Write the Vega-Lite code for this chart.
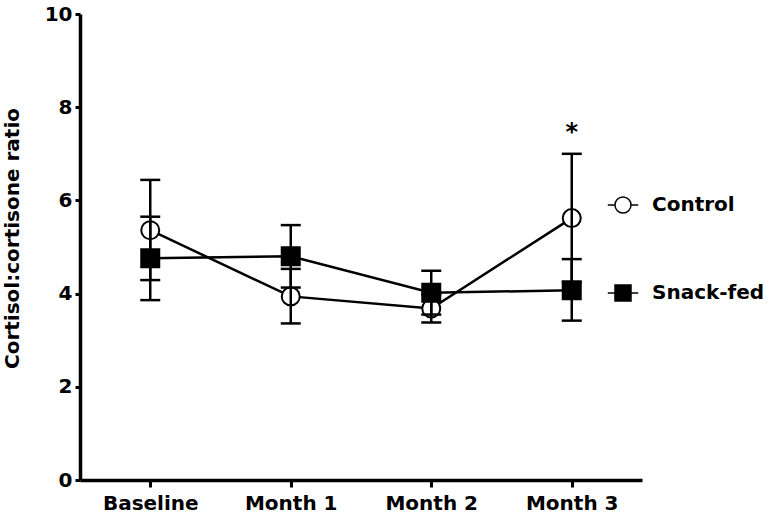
{
  "$schema": "https://vega.github.io/schema/vega-lite/v6.json",
  "width": 562,
  "height": 466,
  "autosize": {"type": "none"},
  "padding": {"left": 80, "top": 14, "right": 125, "bottom": 39},
  "background": "white",
  "config": {
    "view": {"stroke": null},
    "font": "DejaVu Sans",
    "axis": {
      "domainColor": "black",
      "tickColor": "black",
      "labelColor": "black",
      "titleColor": "black",
      "labelFont": "DejaVu Sans",
      "titleFont": "DejaVu Sans",
      "labelFontWeight": "bold",
      "titleFontWeight": "bold",
      "grid": false
    }
  },
  "datasets": {
    "stats": [
      {"group": "Control", "time": "Baseline", "mean": 5.36, "lo": 4.29, "hi": 6.44},
      {"group": "Control", "time": "Month 1", "mean": 3.94, "lo": 3.36, "hi": 4.53},
      {"group": "Control", "time": "Month 2", "mean": 3.68, "lo": 3.38, "hi": 3.98},
      {"group": "Control", "time": "Month 3", "mean": 5.62, "lo": 4.24, "hi": 7.0},
      {"group": "Snack-fed", "time": "Baseline", "mean": 4.76, "lo": 3.86, "hi": 5.65},
      {"group": "Snack-fed", "time": "Month 1", "mean": 4.8, "lo": 4.13, "hi": 5.47},
      {"group": "Snack-fed", "time": "Month 2", "mean": 4.02, "lo": 3.55, "hi": 4.49},
      {"group": "Snack-fed", "time": "Month 3", "mean": 4.07, "lo": 3.42, "hi": 4.74}
    ],
    "marks": [
      {"time": "Month 3", "y": 7.45, "label": "*"}
    ]
  },
  "encoding": {
    "x": {
      "field": "time",
      "type": "ordinal",
      "sort": ["Baseline", "Month 1", "Month 2", "Month 3"],
      "scale": {"type": "point", "padding": 0.5},
      "axis": {
        "title": null,
        "labelAngle": 0,
        "domainWidth": 3.5,
        "tickWidth": 3,
        "tickSize": 7,
        "labelFontSize": 20,
        "labelPadding": 6
      }
    }
  },
  "layer": [
    {
      "data": {"name": "stats"},
      "mark": {"type": "line", "stroke": "black", "strokeWidth": 2.5},
      "encoding": {
        "y": {
          "field": "mean",
          "type": "quantitative",
          "scale": {"domain": [0, 10], "nice": false, "zero": true},
          "axis": {
            "title": "Cortisol:cortisone ratio",
            "values": [0, 2, 4, 6, 8, 10],
            "domainWidth": 3.5,
            "tickWidth": 3,
            "tickSize": 5,
            "labelFontSize": 20,
            "labelPadding": 3,
            "titleFontSize": 20,
            "titlePadding": 22,
            "titleY": 224
          }
        },
        "detail": {"field": "group"}
      }
    },
    {
      "data": {"name": "stats"},
      "mark": {"type": "point", "filled": true, "stroke": "black", "strokeWidth": 2, "size": 324, "opacity": 1},
      "encoding": {
        "y": {"field": "mean", "type": "quantitative"},
        "shape": {
          "field": "group",
          "type": "nominal",
          "scale": {"domain": ["Control", "Snack-fed"], "range": ["circle", "square"]},
          "legend": null
        },
        "fill": {
          "field": "group",
          "type": "nominal",
          "scale": {"domain": ["Control", "Snack-fed"], "range": ["white", "black"]},
          "legend": null
        }
      }
    },
    {
      "data": {"name": "stats"},
      "mark": {"type": "rule", "stroke": "black", "strokeWidth": 2.5},
      "encoding": {
        "y": {"field": "lo", "type": "quantitative"},
        "y2": {"field": "hi"}
      }
    },
    {
      "data": {"name": "stats"},
      "mark": {"type": "tick", "color": "black", "size": 20, "thickness": 2.5, "opacity": 1},
      "encoding": {
        "y": {"field": "lo", "type": "quantitative"}
      }
    },
    {
      "data": {"name": "stats"},
      "mark": {"type": "tick", "color": "black", "size": 20, "thickness": 2.5, "opacity": 1},
      "encoding": {
        "y": {"field": "hi", "type": "quantitative"}
      }
    },
    {
      "data": {"name": "marks"},
      "mark": {"type": "text", "font": "DejaVu Sans", "fontWeight": "bold", "fontSize": 24, "color": "black", "baseline": "middle", "align": "center"},
      "encoding": {
        "y": {"field": "y", "type": "quantitative"},
        "text": {"field": "label"}
      }
    },
    {
      "data": {"name": "stats"},
      "transform": [{"filter": "datum.mean < 0"}],
      "mark": {"type": "point", "filled": true, "stroke": "black", "strokeWidth": 2, "size": 256, "opacity": 1},
      "encoding": {
        "y": {"field": "mean", "type": "quantitative"},
        "shape": {
          "field": "group",
          "type": "nominal",
          "scale": {
            "domain": ["Control", "Snack-fed"],
            "range": [
              "M-1.9,0L-1,0M1,0L1.9,0M1,0A1,1,0,1,1,-1,0A1,1,0,1,1,1,0Z",
              "M-1.9,0L-1,0M1,0L1.9,0M-1,-1L1,-1L1,1L-1,1Z"
            ]
          },
          "legend": {
            "title": null,
            "orient": "none",
            "legendX": 533,
            "legendY": 181,
            "labelFont": "DejaVu Sans",
            "labelFontWeight": "bold",
            "labelFontSize": 20,
            "labelColor": "black",
            "labelOffset": 19,
            "symbolSize": 256,
            "rowPadding": 66,
            "padding": 0,
            "encode": {
              "symbols": {
                "update": {
                  "stroke": {"value": "black"},
                  "strokeWidth": {"value": 2},
                  "opacity": {"value": 1}
                }
              }
            }
          }
        },
        "fill": {
          "field": "group",
          "type": "nominal",
          "scale": {"domain": ["Control", "Snack-fed"], "range": ["white", "black"]},
          "legend": {
            "title": null,
            "orient": "none",
            "legendX": 533,
            "legendY": 181,
            "labelFont": "DejaVu Sans",
            "labelFontWeight": "bold",
            "labelFontSize": 20,
            "labelColor": "black",
            "labelOffset": 19,
            "symbolSize": 256,
            "rowPadding": 66,
            "padding": 0,
            "encode": {
              "symbols": {
                "update": {
                  "stroke": {"value": "black"},
                  "strokeWidth": {"value": 2},
                  "opacity": {"value": 1}
                }
              }
            }
          }
        }
      }
    }
  ],
  "resolve": {
    "scale": {"shape": "independent", "fill": "independent"},
    "legend": {"shape": "independent", "fill": "independent"}
  }
}
